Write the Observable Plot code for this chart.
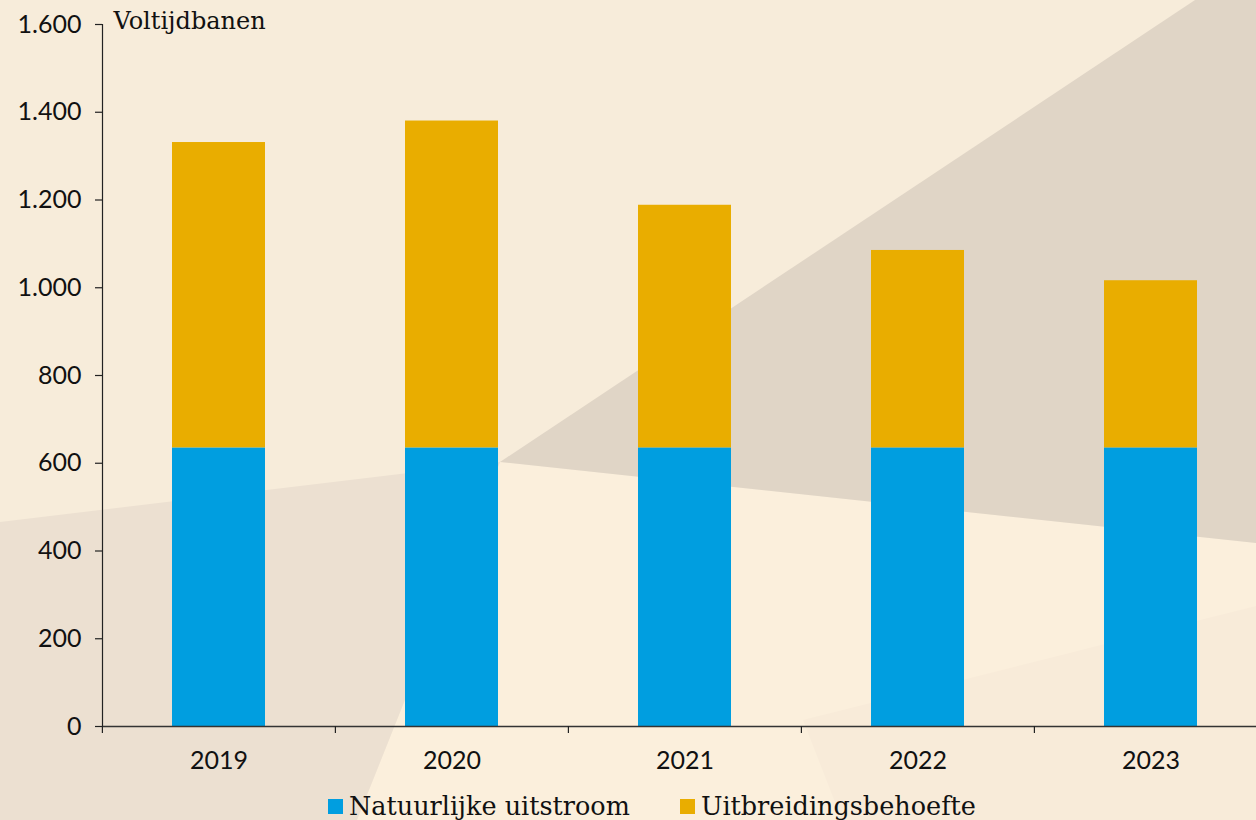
<!DOCTYPE html>
<html><head><meta charset="utf-8">
<script src="https://cdn.jsdelivr.net/npm/d3@7"></script>
<script src="https://cdn.jsdelivr.net/npm/@observablehq/plot@0.6"></script>
<style>
html,body{margin:0;padding:0;width:1256px;height:820px;overflow:hidden;background:#f7ecda;}
#wrap{position:relative;width:1256px;height:820px;overflow:hidden;}
.bg{position:absolute;left:0;top:0;width:1256px;height:820px;}
#bg1{background:#fbefdc;clip-path:polygon(500px 462px,1256px 543px,1256px 820px,357px 820px);}
#bg4{background:#f8ebd9;clip-path:polygon(803px 720px,1256px 606px,1256px 820px,842px 820px);}
#bg2{background:#e0d5c6;clip-path:polygon(500px 462px,1195px 0px,1256px 0px,1256px 543px);}
#bg3{background:#ece0d1;clip-path:polygon(0px 522px,500px 462px,357px 820px,0px 820px);}
#chart{position:absolute;left:0;top:0;}
#legend{position:absolute;left:328px;top:794px;display:flex;align-items:center;font-family:"DejaVu Serif",serif;font-size:25.5px;line-height:25px;color:#111;white-space:nowrap;}
#legend .item{display:flex;align-items:center;margin-right:50px;}
#legend .sw{width:15px;height:15px;margin-right:6px;flex:none;}
</style>
</head>
<body>
<div id="wrap">
  <div class="bg" id="bg1"></div>
  <div class="bg" id="bg4"></div>
  <div class="bg" id="bg2"></div>
  <div class="bg" id="bg3"></div>
  <div id="chart"></div>
  <div id="legend"></div>
</div>
<script>
const years = ["2019", "2020", "2021", "2022", "2023"];
const natuurlijkeUitstroom = [635, 635, 635, 635, 635];
const uitbreidingsbehoefte = [696, 745, 553, 450, 381];
const seriesNames = ["Natuurlijke uitstroom", "Uitbreidingsbehoefte"];
const seriesColors = ["#009ee0", "#e9ad00"];
const yTicks = [0, 200, 400, 600, 800, 1000, 1200, 1400, 1600];
const yLabel = "Voltijdbanen";

const rows = years.flatMap((yr, i) => [
  {year: yr, series: seriesNames[0], value: natuurlijkeUitstroom[i]},
  {year: yr, series: seriesNames[1], value: uitbreidingsbehoefte[i]}
]);

const nl = d3.formatLocale({decimal: ",", thousands: ".", grouping: [3], currency: ["€ ", ""]});
const fmt = nl.format(",");

const W = 1256, H = 780, mL = 102, mT = 24, mB = 54;
const xRange = [mL, 1268];
const step = (xRange[1] - xRange[0]) / years.length;

const chart = Plot.plot({
  width: W, height: H,
  marginLeft: mL, marginRight: 0, marginTop: mT, marginBottom: mB,
  style: {background: "transparent", overflow: "visible", fontFamily: "Lato, sans-serif", fontSize: "25px", color: "#111"},
  x: {domain: years, range: xRange, paddingInner: 0.6, paddingOuter: 0.3, axis: null},
  y: {domain: [0, 1600], axis: null},
  color: {domain: seriesNames, range: seriesColors},
  marks: [
    Plot.barY(rows, {x: "year", y: "value", fill: "series", order: seriesNames}),
    Plot.ruleY([0], {stroke: "#333", strokeWidth: 1.5}),
    Plot.frame({anchor: "left", stroke: "#222", strokeWidth: 1.2}),
    Plot.axisX({tickSize: 0, tickPadding: 25, fontSize: 25, label: null}),
    Plot.axisX({tickSize: 7, tickFormat: () => "", dx: -step / 2, stroke: "#222", strokeWidth: 1.2, label: null}),
    Plot.axisY({ticks: yTicks, tickSize: 7, tickPadding: 14, tickFormat: fmt, fontSize: 25, stroke: "#222", strokeWidth: 1.2, label: null}),
    Plot.text([yLabel], {frameAnchor: "top-left", dx: 11, dy: -3, lineAnchor: "middle", textAnchor: "start",
      fontFamily: "DejaVu Serif, serif", fontSize: 24, fill: "#111"})
  ]
});
document.getElementById("chart").appendChild(chart);

const legend = document.getElementById("legend");
seriesNames.forEach((name, i) => {
  const item = document.createElement("div");
  item.className = "item";
  const sw = document.createElement("div");
  sw.className = "sw";
  sw.style.background = seriesColors[i];
  const label = document.createElement("span");
  label.textContent = name;
  item.appendChild(sw);
  item.appendChild(label);
  legend.appendChild(item);
});
</script>
</body>
</html>
